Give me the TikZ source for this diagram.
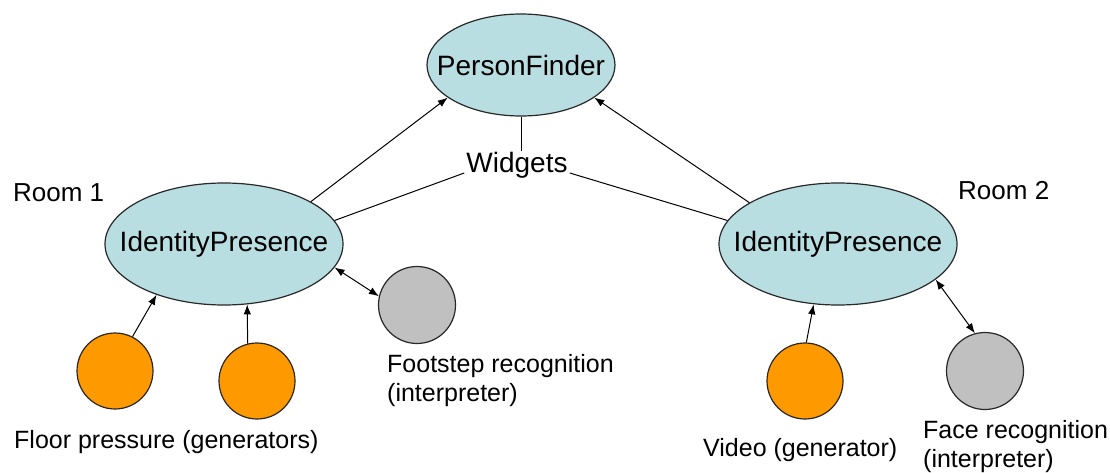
\documentclass[tikz,border=0pt]{standalone}
\usepackage{fontspec}
\setmainfont{Liberation Sans}
\usetikzlibrary{arrows.meta,shapes.geometric}
\definecolor{widgetfill}{RGB}{184,222,225}
\definecolor{genfill}{RGB}{255,153,0}
\definecolor{interpfill}{RGB}{192,192,192}
\definecolor{edge}{RGB}{40,40,40}
\tikzset{
  widget/.style={ellipse, draw=edge, line width=1.2pt, fill=widgetfill, inner sep=0pt,
    minimum width=238pt, minimum height=122pt, font=\fontsize{28}{32}\selectfont},
  generator/.style={circle, draw=edge, line width=1.2pt, fill=genfill, inner sep=0pt, minimum size=76pt},
  interpreter/.style={circle, draw=edge, line width=1.2pt, fill=interpfill, inner sep=0pt, minimum size=77pt},
  caption/.style={inner sep=0pt, align=left, font=\fontsize{25}{29}\selectfont},
  roomlabel/.style={inner sep=0pt, anchor=base west, font=\fontsize{26}{30}\selectfont},
  link/.style={draw=black, line width=1pt},
  flow/.style={link, -{Latex[length=10pt,width=7.5pt]}},
  both/.style={link, {Latex[length=10pt,width=7.5pt]}-{Latex[length=10pt,width=7.5pt]}}
}
\begin{document}
\begin{tikzpicture}[x=1pt,y=-1pt]
\useasboundingbox[fill=white] (0,0) rectangle (1110,473);

% aggregator and the two per-room widgets
\node[widget, minimum width=188pt, minimum height=102pt] (pf) at (521,65) {\makebox[0pt]{PersonFinder}};
\node[widget] (ipl) at (224,244) {\makebox[0pt]{IdentityPresence}};
\node[widget] (ipr) at (838,244) {\makebox[0pt]{IdentityPresence}};

\node[inner sep=2pt, anchor=base, font=\fontsize{28}{32}\selectfont] (wg) at (517,173) {Widgets};

% room 1 sources
\node[generator] (fp1) at (115,371) {};
\node[generator] (fp2) at (257,381) {};
\node[interpreter] (fs) at (417,305) {};

% room 2 sources
\node[generator] (vid) at (805,381) {};
\node[interpreter] (face) at (985,371) {};

% labels
\node[roomlabel] (r1) at (13,201) {Room 1};
\node[roomlabel] (r2) at (958,199) {Room 2};
\node[caption, anchor=base west] (fpc) at (14,448) {Floor pressure (generators)};
\node[caption, anchor=base west] (fsa) at (387,372) {Footstep recognition};
\node[caption, anchor=base west] (fsb) at (387,401) {(interpreter)};
\node[caption, anchor=base west] (vc) at (703,456) {Video (generator)};
\node[caption, anchor=base west] (fca) at (923,438) {Face recognition};
\node[caption, anchor=base west] (fcb) at (923,467) {(interpreter)};

% widget links
\draw[link] (pf.south) -- (pf.south |- wg.north);
\draw[link] (wg.base west) -- (ipl.12);
\draw[link] (wg.base east) -- (ipr.168);
\draw[flow] (ipl.26) -- (pf.204);
\draw[flow] (ipr.155) -- (pf.336);

% sensor links
\draw[flow] (fp1.63) -- (ipl.217);
\draw[flow] (fp2.104) -- (ipl.291);
\draw[both] (ipl.348) -- (fs.167);
\draw[flow] (vid.88) -- (ipr.248);
\draw[both] (ipr.340) -- (face.105);
\end{tikzpicture}
\end{document}
